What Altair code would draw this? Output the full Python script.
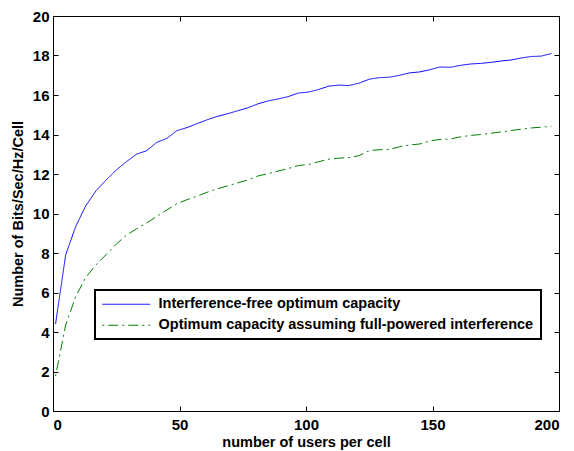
import altair as alt
import pandas as pd

users = [1, 5, 9, 13, 17, 21, 25, 29, 33, 37, 41, 45, 49, 53, 57, 61, 65, 69, 73, 77,
         81, 85, 89, 93, 97, 101, 105, 109, 113, 117, 121, 125, 129, 133, 137, 141, 145,
         149, 153, 157, 161, 165, 169, 173, 177, 181, 185, 189, 193, 197]

free_cap = [4.4, 7.9, 9.35, 10.4, 11.15, 11.7, 12.2, 12.62, 13.0, 13.18, 13.6, 13.8, 14.2,
            14.35, 14.55, 14.75, 14.92, 15.05, 15.2, 15.35, 15.55, 15.7, 15.8, 15.92, 16.1,
            16.15, 16.28, 16.45, 16.5, 16.48, 16.6, 16.8, 16.88, 16.9, 17.0, 17.12, 17.17,
            17.28, 17.42, 17.4, 17.5, 17.57, 17.6, 17.65, 17.72, 17.77, 17.87, 17.95, 17.97, 18.1]

full_cap = [1.77, 4.35, 5.8, 6.78, 7.4, 7.92, 8.45, 8.9, 9.22, 9.52, 9.85, 10.18, 10.5,
            10.7, 10.88, 11.08, 11.25, 11.4, 11.55, 11.7, 11.9, 12.02, 12.15, 12.28, 12.43,
            12.48, 12.62, 12.75, 12.8, 12.83, 12.93, 13.18, 13.23, 13.25, 13.38, 13.47, 13.52,
            13.68, 13.75, 13.77, 13.88, 13.95, 14.0, 14.06, 14.13, 14.2, 14.27, 14.33, 14.37, 14.42]

series_names = ["Interference-free optimum capacity",
                "Optimum capacity assuming full-powered interference"]
series_colors = ["#0000FF", "#008000"]
series_dashes = [[1, 0], [2, 4, 10, 4]]

x_ticks = [0, 50, 100, 150, 200]
y_ticks = [0, 2, 4, 6, 8, 10, 12, 14, 16, 18, 20]

rows = []
for u, a, b in zip(users, free_cap, full_cap):
    rows.append({"users": u, "cap": a, "series": series_names[0]})
    rows.append({"users": u, "cap": b, "series": series_names[1]})
df = pd.DataFrame(rows)

FONT = "Liberation Sans"
W, H = 506, 395

legend = alt.Legend(
    title=None, orient="none", legendX=42, legendY=274, direction="vertical",
    symbolType="M-6,0H6", symbolSize=64, symbolStrokeWidth=1, symbolOffset=17,
    labelOffset=25, labelFont=FONT, labelFontSize=14.5, labelFontWeight="bold",
    labelColor="black", labelLimit=0, strokeColor="black", fillColor="white",
    padding=7, rowPadding=6,
)

chart = alt.Chart(df).mark_line(strokeWidth=1).encode(
    x=alt.X("users:Q", scale=alt.Scale(domain=[0, 200], nice=False),
            axis=alt.Axis(values=x_ticks, title="number of users per cell", grid=True,
                          gridDash=[5, H - 10], gridColor="black", gridOpacity=1, gridWidth=1,
                          ticks=False, labelPadding=6, titlePadding=3)),
    y=alt.Y("cap:Q", scale=alt.Scale(domain=[0, 20], nice=False),
            axis=alt.Axis(values=y_ticks, title="Number of Bits/Sec/Hz/Cell", grid=True,
                          gridDash=[5, W - 10], gridColor="black", gridOpacity=1, gridWidth=1,
                          ticks=False, labelPadding=4, titlePadding=7)),
    color=alt.Color("series:N", scale=alt.Scale(domain=series_names, range=series_colors),
                    legend=legend),
    strokeDash=alt.StrokeDash("series:N", scale=alt.Scale(domain=series_names, range=series_dashes),
                              legend=legend),
).properties(
    width=W, height=H,
    autosize=alt.AutoSizeParams(type="none"),
    padding={"left": 45, "top": 8, "right": 7, "bottom": 40},
).configure_view(
    stroke="black", strokeWidth=1
).configure_axis(
    domainColor="black", domainWidth=1,
    labelFont=FONT, labelFontSize=15, labelFontWeight="bold", labelColor="black",
    titleFont=FONT, titleFontSize=14.5, titleFontWeight="bold", titleColor="black",
).configure_legend(
    strokeWidth=2
)

chart.save("out.html", embed_options={"renderer": "svg", "actions": False})
